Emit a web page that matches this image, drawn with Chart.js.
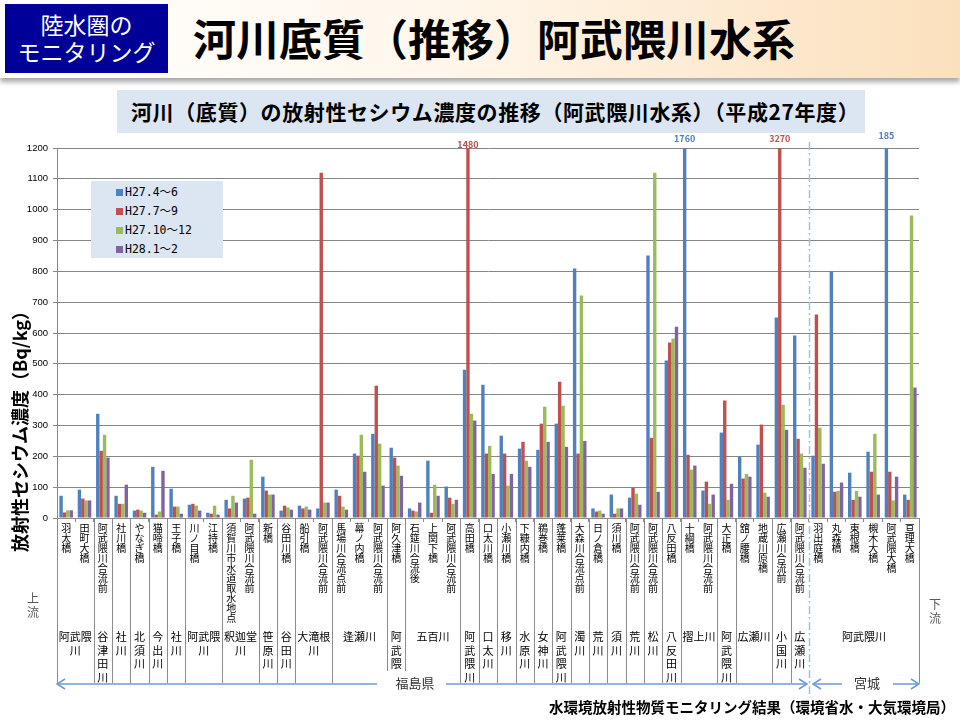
<!DOCTYPE html>
<html lang="ja">
<head>
<meta charset="utf-8">
<title>河川底質（推移）阿武隈川水系</title>
<script src="https://cdn.jsdelivr.net/npm/chart.js@4.4.0/dist/chart.umd.min.js"></script>
<style>
  html, body { margin: 0; padding: 0; background: #fff; }
  body { width: 960px; height: 720px; position: relative; overflow: hidden; font-family: 'Noto Sans CJK JP', sans-serif; }
  #header { position: absolute; left: 0; top: 0; width: 960px; height: 78px;
    background: linear-gradient(90deg, #ffffff 0%, #fff7ec 45%, #fbe0bd 100%);
    box-shadow: 0 4px 5px rgba(0,0,0,0.35); }
  #badge { position: absolute; left: 5px; top: 4px; width: 163px; height: 62px; padding-top: 7px;
    background: #000099; color: #fff; font-size: 23px; line-height: 27px; text-align: center; }
  #title { position: absolute; left: 193px; top: 16px; font-size: 43px; line-height: 43px; font-weight: bold; color: #000; white-space: nowrap; }
  #subtitle { position: absolute; left: 117px; top: 90px; width: 734px; height: 43px; padding-left: 14px;
    background: #dce6f2; font-size: 21px; font-weight: bold; line-height: 43px; letter-spacing: 0.6px; white-space: nowrap; }
  #chart { position: absolute; left: 0; top: 0; }
  #legend { position: absolute; left: 91px; top: 181px; width: 132px; height: 77px; background: #dce6f2; padding-top: 2px; box-sizing: border-box; }
  #legend div { height: 19px; line-height: 19px; padding-left: 25px; font-family: 'DejaVu Sans Mono', 'Noto Sans CJK JP', monospace; font-size: 11.5px; white-space: nowrap; }
  #legend span { display: inline-block; width: 7px; height: 7px; margin-right: 2px; vertical-align: 0px; }
  #footer { position: absolute; right: 5px; top: 699px; font-size: 14.5px; line-height: 15px; font-weight: bold; white-space: nowrap; }
</style>
</head>
<body>
<div id="header">
  <div id="badge">陸水圏の<br>モニタリング</div>
  <div id="title">河川底質（推移）阿武隈川水系</div>
</div>
<div id="subtitle">河川（底質）の放射性セシウム濃度の推移（阿武隈川水系）（平成27年度）</div>
<canvas id="chart" width="960" height="720"></canvas>
<div id="legend"></div>
<div id="footer">水環境放射性物質モニタリング結果（環境省水・大気環境局）</div>

<script>
// sampling points, upstream -> downstream
const categories = ['羽太橋','田町大橋','阿武隈川合流前','社川橋','やなぎ橋','猫啼橋','王子橋','川ノ目橋','江持橋','須賀川市水道取水地点',
  '阿武隈川合流前','新橋','谷田川橋','船引橋','阿武隈川合流前','馬場川合流点前','幕ノ内橋','阿武隈川合流前','阿久津橋','石筵川合流後',
  '上関下橋','阿武隈川合流前','高田橋','口太川橋','小瀬川橋','下糠内橋','鵜巻橋','蓬莱橋','大森川合流点前','日ノ倉橋',
  '須川橋','阿武隈川合流前','阿武隈川合流前','八反田橋','十綱橋','阿武隈川合流前','大正橋','舘ノ腰橋','地蔵川原橋','広瀬川合流前',
  '阿武隈川合流前','羽出庭橋','丸森橋','東根橋','槻木大橋','阿武隈大橋','亘理大橋'];

// river names under the points, and how many points each covers
const riverNames = ['阿武隈川','谷津田川','社川','北須川','今出川','社川','阿武隈川','釈迦堂川','笹原川','谷田川','大滝根川','逢瀬川',
  '阿武隈川','五百川','阿武隈川','口太川','移川','水原川','女神川','阿武隈川','濁川','荒川','須川','荒川','松川','八反田川',
  '摺上川','阿武隈川','広瀬川','小国川','広瀬川','阿武隈川'];
const riverSpans = [2,1,1,1,1,1,2,2,1,1,2,3,1,3,1,1,1,1,1,1,1,1,1,1,1,1,2,1,2,1,1,6];

const fukushimaCount = 41; // points 1..41 are in 福島県, the rest in 宮城

const seriesLabels = ['H27.4〜6','H27.7〜9','H27.10〜12','H28.1〜2'];
const seriesColors = ['#4f81bd','#c0504d','#9bbb59','#8064a2'];

const apr_jun = [72,92,338,72,24,166,95,43,17,59, 63,134,24,40,31,92,209,273,228,31,
  186,102,481,432,267,225,221,306,809,31, 76,66,851,511,1760,89,277,199,238,650, 592,202,800,147,215,1850,76];
const jul_sep = [18,63,218,46,27,11,37,46,14,31, 66,89,40,31,1120,72,202,429,196,24,
  17,66,1480,209,209,247,306,442,209,21, 14,98,260,569,205,118,381,128,303,3270, 257,660,85,59,150,150,59];
const oct_dec = [25,57,270,46,24,21,37,40,40,72, 189,76,34,37,50,37,270,241,170,21,
  108,46,338,234,105,186,361,364,722,24, 31,79,1120,582,157,46,59,143,82,367, 209,293,88,88,273,57,981];
const jan_feb = [25,57,196,108,17,153,14,24,11,50, 14,76,27,27,50,27,150,105,137,50,
  72,59,316,143,143,166,247,231,250,14, 31,43,85,620,170,76,111,134,69,286, 163,176,115,69,76,134,423];

const yTicks = [0,100,200,300,400,500,600,700,800,900,1000,1100,1200];

// values above the axis top: [series, point, text shown]
const overflowMarks = [[1, 22, '1480'], [0, 34, '1760'], [1, 39, '3270'], [0, 45, '185']];

const seriesData = [apr_jun, jul_sep, oct_dec, jan_feb];

// legend
const legendEl = document.getElementById('legend');
seriesLabels.forEach((l, i) => {
  const row = document.createElement('div');
  row.innerHTML = '<span style="background:' + seriesColors[i] + '"></span>' + l;
  legendEl.appendChild(row);
});

Chart.defaults.font.family = "'Noto Sans CJK JP', sans-serif";

function chevron(ctx, x, y, dir) {
  ctx.beginPath();
  ctx.moveTo(x - dir * 8, y - 5);
  ctx.lineTo(x, y);
  ctx.lineTo(x - dir * 8, y + 5);
  ctx.stroke();
}

const decor = {
  id: 'decor',
  afterDatasetsDraw(chart) {
    const ctx = chart.ctx, top = chart.chartArea.top;
    const lift = [3, 9, 9, 12];
    ctx.save();
    ctx.font = 'bold 9px "Noto Sans CJK JP", sans-serif';
    ctx.textAlign = 'center';
    ctx.textBaseline = 'middle';
    overflowMarks.forEach((m, k) => {
      const bar = chart.getDatasetMeta(m[0]).data[m[1]];
      ctx.fillStyle = seriesColors[m[0]];
      ctx.fillText(m[2], bar.x, top - lift[k]);
    });
    ctx.restore();
  },
  afterDraw(chart) {
    const ctx = chart.ctx, xs = chart.scales.x, area = chart.chartArea;
    const arrowY = 684;
    ctx.save();

    // separators between rivers
    let start = 0;
    const bounds = [-0.5];
    riverSpans.forEach(n => { start += n; bounds.push(start - 0.5); });
    ctx.strokeStyle = '#8c8c8c';
    ctx.lineWidth = 1;
    bounds.forEach(b => {
      if (b === fukushimaCount - 0.5) return;
      const x = Math.round(xs.getPixelForValue(b)) + 0.5;
      ctx.beginPath();
      ctx.moveTo(x, area.bottom);
      ctx.lineTo(x, arrowY - 1);
      ctx.stroke();
    });

    // river names
    ctx.fillStyle = '#000';
    ctx.font = '11px "Noto Sans CJK JP", sans-serif';
    ctx.textAlign = 'center';
    ctx.textBaseline = 'middle';
    start = 0;
    riverNames.forEach((name, i) => {
      const n = riverSpans[i];
      const cx = xs.getPixelForValue(start + (n - 1) / 2);
      const perLine = n === 1 ? 1 : (n === 2 ? 3 : 6);
      const chars = Array.from(name);
      const lines = [];
      for (let j = 0; j < chars.length; j += perLine) lines.push(chars.slice(j, j + perLine).join(''));
      lines.forEach((l, j) => ctx.fillText(l, cx, 637 + j * 13.5));
      start += n;
    });

    // prefecture arrows
    const borderX = xs.getPixelForValue(fukushimaCount - 0.5);
    ctx.strokeStyle = '#6b9bd6';
    ctx.lineWidth = 1.5;
    ctx.beginPath();
    ctx.moveTo(area.left, arrowY); ctx.lineTo(borderX - 2, arrowY);
    ctx.stroke();
    chevron(ctx, area.left, arrowY, -1);
    chevron(ctx, borderX - 2, arrowY, 1);
    ctx.beginPath();
    ctx.moveTo(borderX + 4, arrowY); ctx.lineTo(842, arrowY);
    ctx.moveTo(893, arrowY); ctx.lineTo(area.right, arrowY);
    ctx.stroke();
    chevron(ctx, borderX + 4, arrowY, -1);
    chevron(ctx, area.right, arrowY, 1);

    ctx.fillStyle = '#fff';
    ctx.fillRect(377, 671, 69, 24);
    ctx.fillStyle = '#333';
    ctx.font = '13px "Noto Sans CJK JP", sans-serif';
    ctx.fillText('福島県', 415, 683);
    ctx.fillText('宮城', 867, 683);

    // prefecture border
    ctx.strokeStyle = '#9dc3e6';
    ctx.lineWidth = 1.5;
    ctx.setLineDash([8, 3, 2, 3]);
    ctx.beginPath();
    ctx.moveTo(Math.round(borderX) + 0.5, 142);
    ctx.lineTo(Math.round(borderX) + 0.5, 697);
    ctx.stroke();
    ctx.setLineDash([]);

    // upstream / downstream
    ctx.fillStyle = '#595959';
    ctx.font = '12px "Noto Sans CJK JP", sans-serif';
    ctx.fillText('上', 33, 598); ctx.fillText('流', 33, 612);
    ctx.fillText('下', 935, 604); ctx.fillText('流', 935, 618);

    // y axis title
    ctx.translate(20, 427);
    ctx.rotate(-Math.PI / 2);
    ctx.fillStyle = '#000';
    ctx.font = 'bold 18px "Noto Sans CJK JP", sans-serif';
    ctx.fillText('放射性セシウム濃度（Bq/kg）', 0, 0);
    ctx.restore();
  }
};

new Chart(document.getElementById('chart'), {
  type: 'bar',
  data: {
    labels: categories.map(s => Array.from(s)),
    datasets: seriesLabels.map((l, i) => ({
      label: l,
      data: seriesData[i],
      backgroundColor: seriesColors[i],
      borderWidth: 0,
      categoryPercentage: 0.74,
      barPercentage: 1
    }))
  },
  options: {
    responsive: false,
    animation: false,
    layout: { padding: { left: 0, top: 148, right: 41, bottom: 0 } },
    plugins: { legend: { display: false }, tooltip: { enabled: false } },
    scales: {
      x: {
        offset: true,
        grid: { drawOnChartArea: false, offset: true, tickLength: 4, color: '#8c8c8c' },
        border: { color: '#8c8c8c' },
        ticks: { autoSkip: false, maxRotation: 0, minRotation: 0, padding: 1, color: '#000', font: { size: 10, lineHeight: 1 } },
        afterFit(s) { s.height = 202; }
      },
      y: {
        min: yTicks[0],
        max: yTicks[yTicks.length - 1],
        afterBuildTicks(s) { s.ticks = yTicks.map(v => ({ value: v })); },
        ticks: { color: '#000', font: { family: "'Liberation Sans', Arial, sans-serif", size: 9.5 }, padding: 5, callback: v => String(v) },
        grid: { color: '#868686', tickLength: 4 },
        border: { color: '#868686' },
        afterFit(s) { s.width = 57; }
      }
    }
  },
  plugins: [decor]
});
</script>
</body>
</html>
